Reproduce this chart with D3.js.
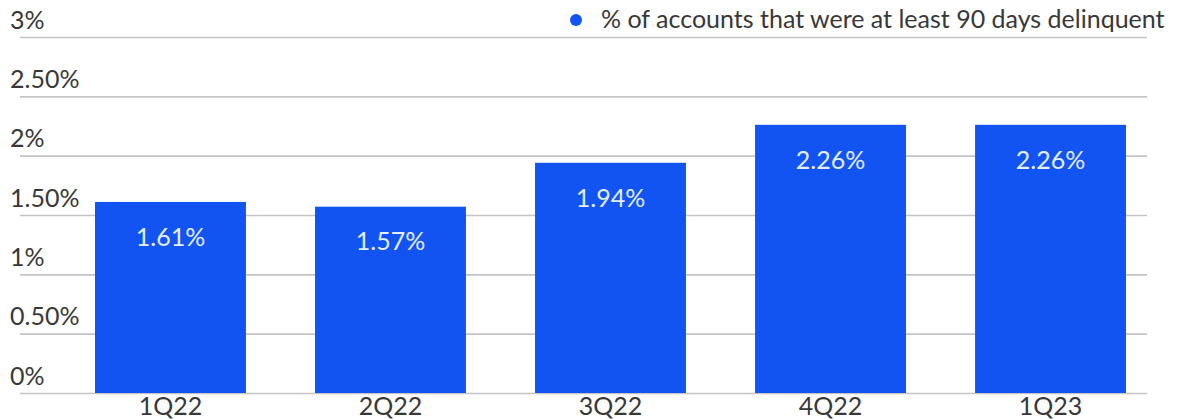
<!DOCTYPE html>
<html>
<head>
<meta charset="utf-8">
<script src="https://cdn.jsdelivr.net/npm/d3@7"></script>
<style>
  html, body { margin: 0; padding: 0; background: #fff; }
  svg { display: block; }
  svg text { font-family: Lato, "Open Sans", sans-serif; }
</style>
</head>
<body>
<svg id="chart" width="1183" height="419"></svg>
<script>
// Quarterly share of accounts 90+ days delinquent
const quarters = ["1Q22", "2Q22", "3Q22", "4Q22", "1Q23"];
const delinquentPct = [1.61, 1.57, 1.94, 2.26, 2.26];
const yTicks = [0, 0.5, 1, 1.5, 2, 2.5, 3];
const yTickLabels = ["0%", "0.50%", "1%", "1.50%", "2%", "2.50%", "3%"];
const seriesName = "% of accounts that were at least 90 days delinquent";

const svg = d3.select("#chart");
const barColor = "#1154f2";
const textColor = "#383838";
const fontSize = 25;

const y = d3.scaleLinear().domain([0, 3]).range([393, 37]);
const x = d3.scaleBand().domain(quarters).range([40, 1181])
  .paddingInner(0.314).paddingOuter(0.25);

// gridlines + tick labels sitting above each line
const yAxis = d3.axisLeft(y).tickValues(yTicks)
  .tickSize(-(1147 - 20)).tickFormat((d, i) => yTickLabels[i]);
const gy = svg.append("g").attr("transform", "translate(20,0)").call(yAxis);
gy.attr("font-family", null);
gy.select(".domain").remove();
gy.selectAll(".tick line").attr("stroke", "#c4c4c4").attr("stroke-width", 1.6);
gy.selectAll(".tick text")
  .attr("x", -10).attr("y", -9).attr("dy", 0)
  .attr("text-anchor", "start")
  .attr("fill", textColor).attr("font-size", fontSize);

// bars
svg.append("g").selectAll("rect").data(delinquentPct).join("rect")
  .attr("x", (d, i) => x(quarters[i]))
  .attr("width", x.bandwidth())
  .attr("y", d => y(d))
  .attr("height", d => y(0) - y(d))
  .attr("fill", barColor);

// value labels
svg.append("g").selectAll("text").data(delinquentPct).join("text")
  .attr("x", (d, i) => x(quarters[i]) + x.bandwidth() / 2)
  .attr("y", d => y(d) + 35)
  .attr("dy", "0.35em")
  .attr("text-anchor", "middle")
  .attr("fill", "#e3edff").attr("font-size", fontSize)
  .text(d => d.toFixed(2) + "%");

// category axis
const xAxis = d3.axisBottom(x).tickSize(0);
const gx = svg.append("g").attr("transform", "translate(0,393)").call(xAxis);
gx.attr("font-family", null);
gx.select(".domain").remove();
gx.selectAll(".tick text").attr("y", 22).attr("dy", 0)
  .attr("fill", textColor).attr("font-size", fontSize);

// legend
const lg = svg.append("g").attr("transform", "translate(576,20)");
lg.append("circle").attr("r", 6).attr("fill", barColor);
lg.append("text").attr("x", 25).attr("y", 8)
  .attr("fill", textColor).attr("font-size", fontSize).text(seriesName);
</script>
</body>
</html>
